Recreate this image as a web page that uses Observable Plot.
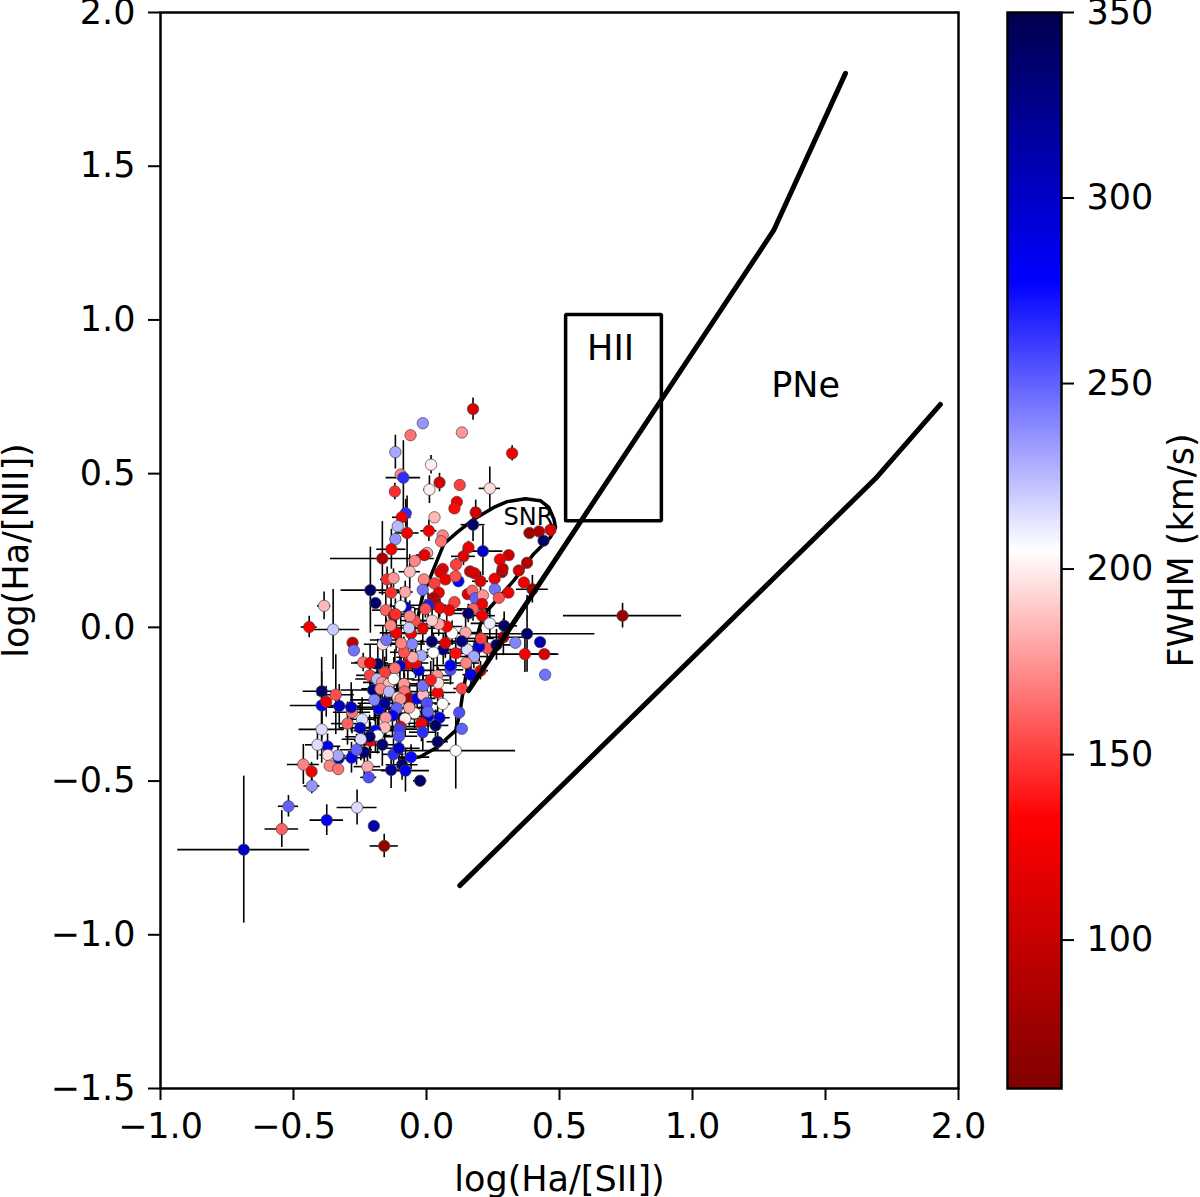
<!DOCTYPE html>
<html><head><meta charset="utf-8">
<script src="https://cdn.jsdelivr.net/npm/d3@7"></script>
<script src="https://cdn.jsdelivr.net/npm/@observablehq/plot@0.6"></script>
<style>
html,body{margin:0;padding:0;background:#fff}
#wrap{position:relative;width:1200px;height:1197px;overflow:hidden}
#wrap svg{position:absolute;left:0;top:0;background:transparent;overflow:visible}
</style></head><body><div id="wrap"></div>
<script>
// rows: log(Ha/[SII]), log(Ha/[NII]), FWHM, x error, y error
const upperPoints = [
[0.175,0.710,110,0,0.036],[-0.014,0.664,235,0,0],[-0.060,0.625,165,0,0],[0.133,0.634,175,0,0],
[0.322,0.566,125,0,0.025],[-0.117,0.570,230,0,0.055],[0.017,0.529,200,0,0.03],[-0.097,0.497,170,0,0],
[-0.087,0.487,265,0.065,0.12],[0.049,0.471,110,0,0.03],[0.125,0.463,150,0,0],[0.238,0.452,195,0.04,0.07],
[0.011,0.448,200,0.022,0.045],[-0.119,0.442,145,0,0.027],[0.114,0.408,125,0,0],[0.105,0.387,135,0,0.02],
[0.185,0.374,105,0,0.04],[0.030,0.358,185,0,0],[-0.078,0.371,265,0,0.045],[-0.093,0.358,125,0.035,0.02],
[-0.108,0.329,225,0,0],[-0.073,0.307,125,0.045,0.12],[0.009,0.314,125,0.03,0.035],[0.175,0.334,340,0.045,0.055],
[0.387,0.307,80,0,0],[0.423,0.312,85,0,0],[0.466,0.317,115,0,0],[0.440,0.282,340,0,0],
[0.061,0.299,170,0,0],[0.055,0.280,165,0,0],[-0.117,0.287,235,0,0],[-0.132,0.254,125,0.055,0.065],
[-0.166,0.224,85,0.195,0.12],[0.002,0.242,180,0,0],[-0.008,0.235,120,0.03,0.02],[-0.044,0.216,170,0,0]
];
const snrPoints = [
[0.158,0.260,125,0,0.02],[0.139,0.231,115,0.045,0.03],[0.212,0.248,300,0.075,0.08],[0.309,0.235,105,0,0],
[0.276,0.221,125,0,0],[0.378,0.210,90,0,0],[0.111,0.204,150,0,0.02],[0.061,0.190,120,0,0],[0.052,0.179,115,0,0],
[0.284,0.180,90,0,0],[0.286,0.191,100,0,0],[0.347,0.185,105,0,0],[0.164,0.182,105,0,0],[0.180,0.176,110,0,0],
[-0.063,0.181,185,0.04,0.055],[-0.148,0.156,145,0.025,0.04],[-0.124,0.160,175,0,0.03],[-0.010,0.156,170,0.02,0],
[0.120,0.150,280,0,0],[0.071,0.156,125,0,0],[0.109,0.166,155,0,0],[0.203,0.150,110,0.03,0.03],[0.256,0.158,125,0,0],
[0.366,0.146,125,0,0],[0.398,0.124,85,0.06,0.045],[0.030,0.143,150,0,0],[0.257,0.124,245,0,0],[-0.014,0.122,245,0,0.035],
[-0.211,0.121,340,0.11,0.14],[-0.133,0.113,145,0.045,0.05],[-0.080,0.115,180,0.03,0.035],[0.155,0.108,115,0,0],
[0.172,0.119,160,0,0],[0.046,0.113,125,0,0],[0.308,0.113,125,0,0],[0.184,0.095,250,0.03,0.02],[0.212,0.104,175,0,0],
[0.027,0.096,90,0,0],[0.272,0.096,155,0,0],[0.105,0.082,150,0,0],[0.209,0.076,125,0,0],[-0.192,0.079,340,0,0],
[-0.385,0.070,185,0.025,0.045],[-0.078,0.065,300,0.035,0.05],[-0.097,0.069,205,0.04,0.06],[0.034,0.076,95,0,0],
[0.006,0.072,270,0.07,0.04],[0.050,0.063,130,0.05,0.03],[0.086,0.056,125,0.05,0.02],[0.175,0.060,160,0.06,0.04],
[-0.004,0.060,155,0.04,0.03],[-0.153,0.056,160,0.05,0.06],[-0.123,0.038,90,0,0.03],[-0.117,0.043,145,0.05,0.05],
[0.157,0.045,340,0.08,0.03],[0.209,0.038,125,0.05,0.02]
];
const centralPoints = [
[0.238,0.013,210,0.07,0.05],[0.292,0.005,340,0.05,0.045],[0.378,-0.021,340,0.255,0.125],[0.289,-0.032,80,0.09,0.06],
[0.334,-0.050,240,0,0],[0.427,-0.048,310,0,0],[0.228,-0.068,155,0.04,0.04],[0.263,-0.057,340,0.06,0.05],
[0.153,-0.072,215,0.05,0.05],[0.198,-0.063,290,0.05,0.05],[0.370,-0.087,130,0.12,0.06],[0.443,-0.087,110,0.055,0],
[0.446,-0.154,245,0.015,0],[0.203,-0.141,125,0.03,0.03],[0.167,-0.154,285,0.03,0.04],[0.133,-0.199,150,0.03,0],
[0.178,-0.095,230,0.05,0.04],[0.149,-0.116,170,0.05,0.04],[0.110,-0.084,135,0.05,0.05],[0.090,-0.138,255,0.05,0.05],
[0.090,-0.124,280,0.06,0.05],[0.063,-0.072,330,0.06,0.05],[0.026,-0.082,205,0.06,0.06],[0.020,-0.046,340,0.06,0.06],
[0.147,-0.017,180,0.05,0.05],[0.096,-0.019,205,0.07,0.04],[0.132,-0.045,330,0.05,0.04],[0.205,-0.036,150,0.05,0.03],
[0.071,-0.051,115,0.04,0.05],[0.076,0.003,130,0.06,0.05],[0.046,0.011,180,0.05,0.04],[0.021,0.022,190,0.05,0.05],
[-0.014,-0.003,120,0.05,0.05],[-0.058,-0.020,125,0.06,0.06],[-0.114,-0.018,125,0.06,0.06],[-0.044,0.022,155,0.05,0.04],
[-0.063,0.036,170,0.04,0.05],[-0.135,0.006,170,0.06,0.07],[-0.066,-0.002,220,0.07,0.05],[-0.029,-0.140,290,0.06,0.06],
[-0.041,-0.116,125,0.05,0.05],[-0.070,-0.119,125,0.05,0.05],[-0.020,-0.092,230,0.06,0.05],[-0.054,-0.054,240,0.05,0.06],
[-0.052,-0.097,180,0.06,0.05],[-0.085,-0.081,155,0.05,0.05],[-0.095,-0.052,170,0.06,0.06],[-0.164,-0.055,195,0.07,0.06],
[-0.151,-0.041,245,0.06,0.07],[-0.278,-0.050,95,0,0],[-0.273,-0.075,245,0,0],[-0.351,-0.007,220,0.1,0.13],
[-0.441,0.001,125,0.03,0.035],[-0.238,-0.114,165,0.03,0.03],[-0.183,-0.119,340,0.07,0.08],[-0.212,-0.116,125,0.07,0.06],
[-0.100,-0.125,300,0.06,0.06],[-0.119,-0.133,165,0.08,0.06],[-0.157,-0.147,150,0.06,0.05],[-0.213,-0.156,150,0.05,0.05]
];
const lowerPoints = [
[-0.186,-0.168,225,0.08,0.06],[-0.167,-0.179,175,0.07,0.05],[-0.142,-0.184,185,0.07,0.06],[-0.123,-0.168,205,0.08,0.07],
[-0.201,-0.204,330,0.12,0.06],[-0.173,-0.200,170,0.07,0.07],[-0.141,-0.209,225,0.07,0.07],[-0.085,-0.184,175,0.06,0.06],
[-0.083,-0.209,165,0.08,0.06],[-0.064,-0.231,85,0.05,0.05],[-0.035,-0.231,280,0.07,0.05],[-0.108,-0.228,195,0.06,0.06],
[-0.098,-0.233,175,0.06,0.05],[-0.013,-0.220,185,0.08,0.07],[0.042,-0.212,130,0.07,0.07],[-0.013,-0.190,245,0.06,0.05],
[0.040,-0.157,175,0.05,0.06],[0.044,-0.181,195,0.06,0.05],[0.016,-0.171,140,0.07,0.06],[0.061,-0.249,205,0.03,0.03],
[0.006,-0.290,300,0.05,0.05],[0.002,-0.246,255,0.05,0.06],[0.005,-0.274,250,0.04,0.05],[0.049,-0.294,290,0.04,0],
[0.034,-0.319,340,0.05,0.05],[0.123,-0.277,255,0,0],[0.133,-0.330,250,0,0],[-0.019,-0.312,130,0.06,0.06],
[-0.014,-0.341,265,0.05,0.06],[0.042,-0.372,340,0.04,0.03],[0.110,-0.401,205,0.225,0.125],[-0.045,-0.279,205,0.05,0.05],
[-0.080,-0.297,200,0.06,0.06],[-0.112,-0.263,250,0.09,0.08],[-0.065,-0.261,180,0.08,0.06],[-0.179,-0.266,285,0.09,0.07],
[-0.196,-0.236,240,0.09,0.07],[-0.157,-0.247,320,0.1,0.06],[-0.280,-0.276,165,0.07,0.07],[-0.283,-0.260,300,0.09,0.08],[-0.328,-0.256,300,0.08,0.07],
[-0.394,-0.254,285,0.118,0.11],[-0.377,-0.242,125,0,0.05],[-0.394,-0.208,340,0.07,0.11],[-0.341,-0.219,155,0.07,0.13],
[-0.242,-0.299,215,0.05,0.07],[-0.297,-0.313,160,0.06,0.07],[-0.249,-0.327,300,0.08,0.08],
[-0.394,-0.332,215,0.085,0.11],[-0.128,-0.287,280,0.06,0.07],[-0.153,-0.294,175,0.07,0.06],[-0.157,-0.326,185,0.07,0.06],
[-0.098,-0.323,125,0.07,0.06],[-0.102,-0.331,260,0.07,0.06],[-0.103,-0.354,255,0.07,0.07],[-0.192,-0.336,280,0.08,0.07],
[-0.211,-0.369,125,0.06,0.06],[-0.184,-0.352,205,0.05,0.06],[-0.214,-0.356,340,0.09,0.07],[-0.247,-0.364,215,0.07,0.07],
[-0.166,-0.382,335,0.08,0.07],[-0.124,-0.413,265,0.04,0.05],[-0.104,-0.393,300,0.08,0.06],[-0.058,-0.422,275,0.07,0.04],
[-0.092,-0.447,340,0.06,0.05],[-0.133,-0.464,320,0.07,0.06],[-0.079,-0.466,285,0.09,0.07],[-0.024,-0.499,340,0.025,0],
[-0.222,-0.453,180,0.05,0.05],[-0.217,-0.488,255,0.03,0.02],[-0.282,-0.424,285,0.05,0.05],[-0.234,-0.406,340,0.06,0.08],
[-0.263,-0.398,250,0.06,0.05],[-0.330,-0.426,310,0.03,0.02],[-0.333,-0.417,230,0.03,0.03],[-0.372,-0.387,280,0.05,0.04],
[-0.371,-0.415,195,0.03,0.03],[-0.410,-0.382,215,0.045,0.05],[-0.364,-0.450,170,0,0],[-0.332,-0.461,165,0,0],
[-0.463,-0.446,170,0.06,0.065],[-0.432,-0.469,125,0,0.03],[-0.431,-0.516,235,0.03,0.025]
];
const outlierPoints = [
[-0.519,-0.582,250,0.038,0.035],[-0.261,-0.586,215,0.075,0.057],[-0.375,-0.627,280,0.063,0.05],[-0.198,-0.646,310,0,0],
[-0.544,-0.656,160,0.063,0.06],[-0.159,-0.711,75,0.053,0.038],[-0.687,-0.723,300,0.248,0.239],[0.737,0.038,75,0.222,0.04]
];
const points = [...upperPoints, ...snrPoints, ...centralPoints, ...lowerPoints, ...outlierPoints]
  .map(([x, y, f, xe, ye]) => ({x, y, f, xe, ye}));

// region boundaries, as [log(Ha/[SII]), log(Ha/[NII])]
const upperBoundary = [[0.158,-0.206],[1.305,1.291],[1.575,1.802]];
const lowerBoundary = [[0.125,-0.84],[1.688,0.484],[1.932,0.725]];
const hiiBox = [[0.523,0.347],[0.883,0.347],[0.883,1.018],[0.523,1.018],[0.523,0.347]];
const snrCurve = [[-0.035,0.022],[-0.016,0.098],[0.009,0.152],[0.065,0.271],[0.115,0.309],[0.178,0.352],[0.253,0.390],
[0.303,0.409],[0.372,0.418],[0.428,0.412],[0.460,0.390],[0.479,0.352],[0.485,0.325],[0.466,0.293],[0.403,0.239],
[0.328,0.152],[0.228,0.054],[0.203,0.011],[0.172,-0.087],[0.147,-0.162],[0.134,-0.228],[0.125,-0.282],[0.109,-0.336],
[0.040,-0.390],[-0.023,-0.421],[-0.098,-0.431]];
const regionLabels = [
  {x:0.692,y:0.907,t:"HII",s:35},
  {x:1.425,y:0.787,t:"PNe",s:35},
  {x:0.383,y:0.357,t:"SNR",s:24}
];

const xTicks = [-1,-0.5,0,0.5,1,1.5,2];
const yTicks = [-1.5,-1,-0.5,0,0.5,1,1.5,2];
const fwhmTicks = [100,150,200,250,300,350];
const fwhmDomain = [60,132.5,205,277.5,350];
const fwhmColors = ["#800000","#ff0000","#ffffff","#0000ff","#00004d"];

const font = "'DejaVu Sans', sans-serif";
const colorScale = {type:"linear", domain:fwhmDomain, range:fwhmColors};
const fmt = d3.format(".1f");

const main = Plot.plot({
  width:1200, height:1197,
  marginLeft:160, marginRight:242, marginTop:12, marginBottom:109,
  style:{fontFamily:font, fontSize:"35px", background:"transparent", color:"#000"},
  x:{domain:[-1,2]},
  y:{domain:[-1.5,2]},
  color:colorScale,
  marks:[
    Plot.ruleY(points.filter(d=>d.xe>0),{y:"y",x1:d=>d.x-d.xe,x2:d=>d.x+d.xe,stroke:"#000",strokeWidth:1.6}),
    Plot.ruleX(points.filter(d=>d.ye>0),{x:"x",y1:d=>d.y-d.ye,y2:d=>d.y+d.ye,stroke:"#000",strokeWidth:1.6}),
    Plot.line(snrCurve,{x:d=>d[0],y:d=>d[1],stroke:"#000",strokeWidth:3.5,curve:"linear"}),
    Plot.dot(points,{x:"x",y:"y",fill:"f",r:5.7,stroke:"#444",strokeWidth:0.7}),
    Plot.line(hiiBox,{x:d=>d[0],y:d=>d[1],stroke:"#000",strokeWidth:3.5,strokeLinejoin:"miter"}),
    Plot.line(upperBoundary,{x:d=>d[0],y:d=>d[1],stroke:"#000",strokeWidth:5}),
    Plot.line(lowerBoundary,{x:d=>d[0],y:d=>d[1],stroke:"#000",strokeWidth:5}),
    Plot.text(regionLabels,{x:"x",y:"y",text:"t",fontSize:"s",fill:"#000"}),
    Plot.frame({stroke:"#000",strokeWidth:2.5}),
    Plot.axisX({ticks:xTicks,tickFormat:fmt,tickSize:12,tickPadding:13,strokeWidth:2,fontSize:35,
      label:"log(Ha/[SII])",labelAnchor:"center",labelArrow:"none",labelOffset:102}),
    Plot.axisY({ticks:yTicks,tickFormat:fmt,tickSize:12,tickPadding:13,strokeWidth:2,fontSize:35,
      label:"log(Ha/[NII])",labelAnchor:"center",labelArrow:"none",labelOffset:157})
  ]
});

const bar = Plot.plot({
  width:1200, height:1197,
  marginLeft:1007, marginRight:139, marginTop:12, marginBottom:109,
  style:{fontFamily:font, fontSize:"35px", background:"transparent", color:"#000"},
  x:{domain:[0,1],axis:null},
  y:{domain:[60,350]},
  color:colorScale,
  marks:[
    Plot.rect(d3.range(60,350,1),{x1:0,x2:1,y1:d=>d,y2:d=>d+1,fill:d=>d+0.5,shapeRendering:"crispEdges"}),
    Plot.frame({stroke:"#000",strokeWidth:2.5}),
    Plot.axisY({anchor:"right",ticks:fwhmTicks,tickSize:12,tickPadding:13,strokeWidth:2,fontSize:35,textAnchor:"start",
      label:"FWHM (km/s)",labelAnchor:"center",labelArrow:"none",labelOffset:131,labelRotate:-90})
  ]
});

const wrap = document.getElementById("wrap");
wrap.append(main);
wrap.append(bar);
</script></body></html>
